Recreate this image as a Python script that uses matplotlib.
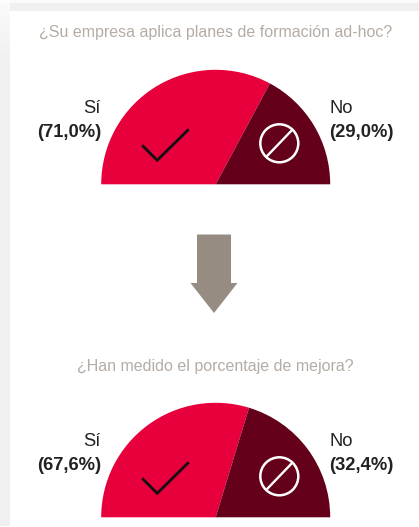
#!/usr/bin/env python3
# -*- coding: utf-8 -*-
import numpy as np
import matplotlib
matplotlib.use("Agg")
import matplotlib.pyplot as plt
from matplotlib.patches import Rectangle, Circle, Polygon

W, H = 419, 527

preguntas = ["¿Su empresa aplica planes de formación ad-hoc?",
             "¿Han medido el porcentaje de mejora?"]
etiquetas = ["Sí", "No"]
pct_si = ["(71,0%)", "(67,6%)"]
pct_no = ["(29,0%)", "(32,4%)"]
# reparto tal como esta dibujado en la imagen (no coincide con las etiquetas)
share_si = [65.7, 59.4]
share_no = [34.3, 40.6]

ROJO = "#e8003d"
GRANATE = "#64001a"
GRIS_T = "#b5aca5"
OSCURO = "#222222"

plt.rcParams["font.family"] = ["Liberation Sans", "DejaVu Sans"]
fig = plt.figure(figsize=(W / 100, H / 100), dpi=100, facecolor="#f0f0f0")
ax = fig.add_axes([0, 0, 1, 1])
ax.set_xlim(0, W); ax.set_ylim(H, 0)
ax.axis("off")

# fondo: banda gris arriba y a la izquierda, mas clara en la esquina
ax.add_patch(Rectangle((0, 0), W, 3, fc="#fbfbfb", ec="none", zorder=0))
fade = np.linspace(1, 0, 64).reshape(-1, 1)
ax.imshow(np.dstack([np.ones((64, 1, 3)), fade * 0.75]), extent=(0, 10, 64, 0),
          aspect="auto", zorder=0.5)
ax.add_patch(Rectangle((10, 11), W - 10, H - 11, fc="white", ec="none", zorder=1))
ax.add_patch(Rectangle((0, 526), W, 1, fc="white", ec="none", zorder=1))


def medio_gauge(y0, si, no, titulo, y_tit, txt_si, txt_no):
    cx, r = 215.7, 114.5
    ax.text(cx - 0.5, y_tit, titulo, ha="center", va="center", color=GRIS_T, fontsize=11.5)
    # el eje tiene la y invertida, asi que el pie se dibuja espejado
    ax.pie([si, no, si + no], colors=[ROJO, GRANATE, "none"], startangle=180,
           counterclock=True, center=(cx, y0), radius=r, frame=True,
           wedgeprops=dict(linewidth=0, zorder=2))
    ax.set_xlim(0, W); ax.set_ylim(H, 0); ax.axis("off")
    # check
    ax.plot([cx - 73.5, cx - 58.5, cx - 27], [y0 - 39, y0 - 24, y0 - 55], color="#111111",
            lw=2.0, solid_joinstyle="miter", solid_capstyle="butt", zorder=5)
    # prohibido
    px, py = 279.3, y0 - 41
    ax.add_patch(Circle((px, py), 19, fc="none", ec="white", lw=1.8, zorder=5))
    ax.plot([px - 12.5, px + 12.5], [py + 13, py - 13], color="white", lw=1.7, zorder=5)
    ax.text(101, y0 - 76, etiquetas[0], ha="right", va="center", color=OSCURO, fontsize=13.2)
    ax.text(101, y0 - 51.5, txt_si, ha="right", va="center", color=OSCURO, fontsize=13.2, fontweight="bold")
    ax.text(329.5, y0 - 76, etiquetas[1], ha="left", va="center", color=OSCURO, fontsize=13.2)
    ax.text(329.5, y0 - 51.5, txt_no, ha="left", va="center", color=OSCURO, fontsize=13.2, fontweight="bold")


medio_gauge(184.3, share_si[0], share_no[0], preguntas[0], 33, pct_si[0], pct_no[0])
medio_gauge(517.3, share_si[1], share_no[1], preguntas[1], 366, pct_si[1], pct_no[1])

# flecha
ax.add_patch(Polygon([(197, 234.5), (231, 234.5), (231, 283), (237.5, 283), (214, 313),
                      (190.5, 283), (197, 283)], fc="#968c82", ec="none", zorder=3))

fig.savefig("out.png", dpi=100)
